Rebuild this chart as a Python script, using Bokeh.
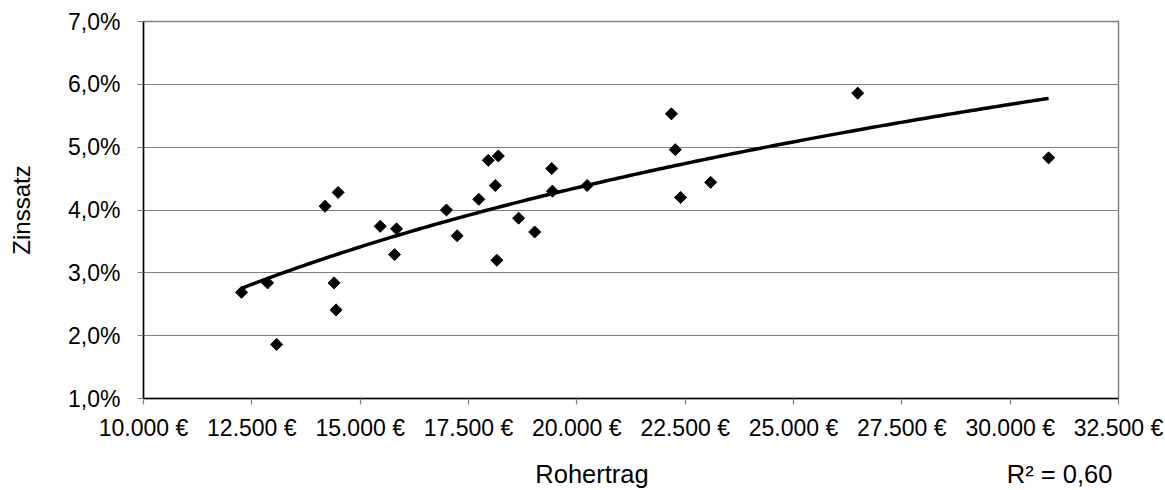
import numpy as np
from bokeh.plotting import figure
from bokeh.models import Range1d, FixedTicker, ColumnDataSource, LinearAxis
from bokeh.embed import file_html
from bokeh.resources import INLINE

# Data
rohertrag = [12262, 12863, 13072, 14190, 14491, 14398, 14444, 15463, 15840, 15794,
             16991, 17238, 17738, 17956, 18188, 18118, 18155, 18657, 19028, 19421,
             19437, 20238, 22183, 22273, 22394, 23088, 26481, 30887]
zinssatz = [2.69, 2.84, 1.86, 4.06, 4.28, 2.84, 2.41, 3.74, 3.70, 3.29,
            4.00, 3.59, 4.17, 4.79, 4.86, 4.39, 3.20, 3.87, 3.65, 4.66,
            4.30, 4.39, 5.53, 4.96, 4.20, 4.44, 5.86, 4.83]

x_ticks = [10000, 12500, 15000, 17500, 20000, 22500, 25000, 27500, 30000, 32500]
x_tick_labels = ["10.000 €", "12.500 €", "15.000 €", "17.500 €", "20.000 €",
                 "22.500 €", "25.000 €", "27.500 €", "30.000 €", "32.500 €"]
y_ticks = [1, 2, 3, 4, 5, 6, 7]
y_tick_labels = ["1,0%", "2,0%", "3,0%", "4,0%", "5,0%", "6,0%", "7,0%"]
x_title = "Rohertrag"
y_title = "Zinssatz"
r2_text = "R² = 0,60"
# positions (in Rohertrag units) of the bottom captions
caption_pos = [20350, 31140]
caption_text = [x_title, r2_text]

# Logarithmic trend line fitted to the points
xa = np.array(rohertrag, dtype=float)
ya = np.array(zinssatz, dtype=float)
a, b = np.polyfit(np.log(xa), ya, 1)
tx = np.linspace(xa.min(), xa.max(), 200)
ty = a * np.log(tx) + b

FONT = "Liberation Sans"

p = figure(width=1165, height=490, output_backend="svg", toolbar_location=None,
           x_range=Range1d(10000, 32500), y_range=Range1d(1, 7),
           min_border_left=143, min_border_right=47, min_border_top=21,
           min_border_bottom=92)

p.outline_line_color = "#808080"
p.outline_line_width = 1.5
p.xgrid.grid_line_color = None
p.ygrid.grid_line_color = "#808080"
p.ygrid.grid_line_width = 1

for ax in (p.xaxis[0], p.yaxis[0]):
    ax.axis_line_color = "black"
    ax.axis_line_width = 1.5
    ax.major_tick_line_color = "#808080"
    ax.major_tick_line_width = 1.2
    ax.major_tick_out = 6
    ax.major_tick_in = 0
    ax.minor_tick_line_color = None
    ax.major_label_text_font = FONT
    ax.major_label_text_font_size = "23px"
    ax.major_label_text_color = "black"
    ax.axis_label_text_font = FONT
    ax.axis_label_text_font_size = "24px"
    ax.axis_label_text_font_style = "normal"
    ax.axis_label_text_color = "black"

p.xaxis.ticker = FixedTicker(ticks=x_ticks)
p.xaxis.major_label_overrides = dict(zip(x_ticks, x_tick_labels))
p.yaxis.ticker = FixedTicker(ticks=y_ticks)
p.yaxis.major_label_overrides = dict(zip(y_ticks, y_tick_labels))
p.yaxis.axis_label = y_title
p.xaxis.major_label_standoff = 10
p.yaxis.major_label_standoff = 17
p.yaxis.axis_label_standoff = 30

# second, invisible axis below carrying the x title and the R² caption on one line
cap_axis = LinearAxis(ticker=FixedTicker(ticks=caption_pos),
                      major_label_overrides=dict(zip(caption_pos, caption_text)),
                      axis_line_color=None, major_tick_line_color=None,
                      minor_tick_line_color=None, major_tick_out=0, major_tick_in=0,
                      major_label_standoff=16,
                      major_label_text_font=FONT,
                      major_label_text_font_size="25.5px",
                      major_label_text_color="black")
p.add_layout(cap_axis, "below")

src = ColumnDataSource(dict(x=rohertrag, y=zinssatz))
p.line(tx, ty, line_color="black", line_width=3.5)
p.scatter("x", "y", source=src, marker="square", size=8.5, angle=np.pi / 4,
          fill_color="black", line_color="black")

open("out.html", "w").write(file_html(p, INLINE))
